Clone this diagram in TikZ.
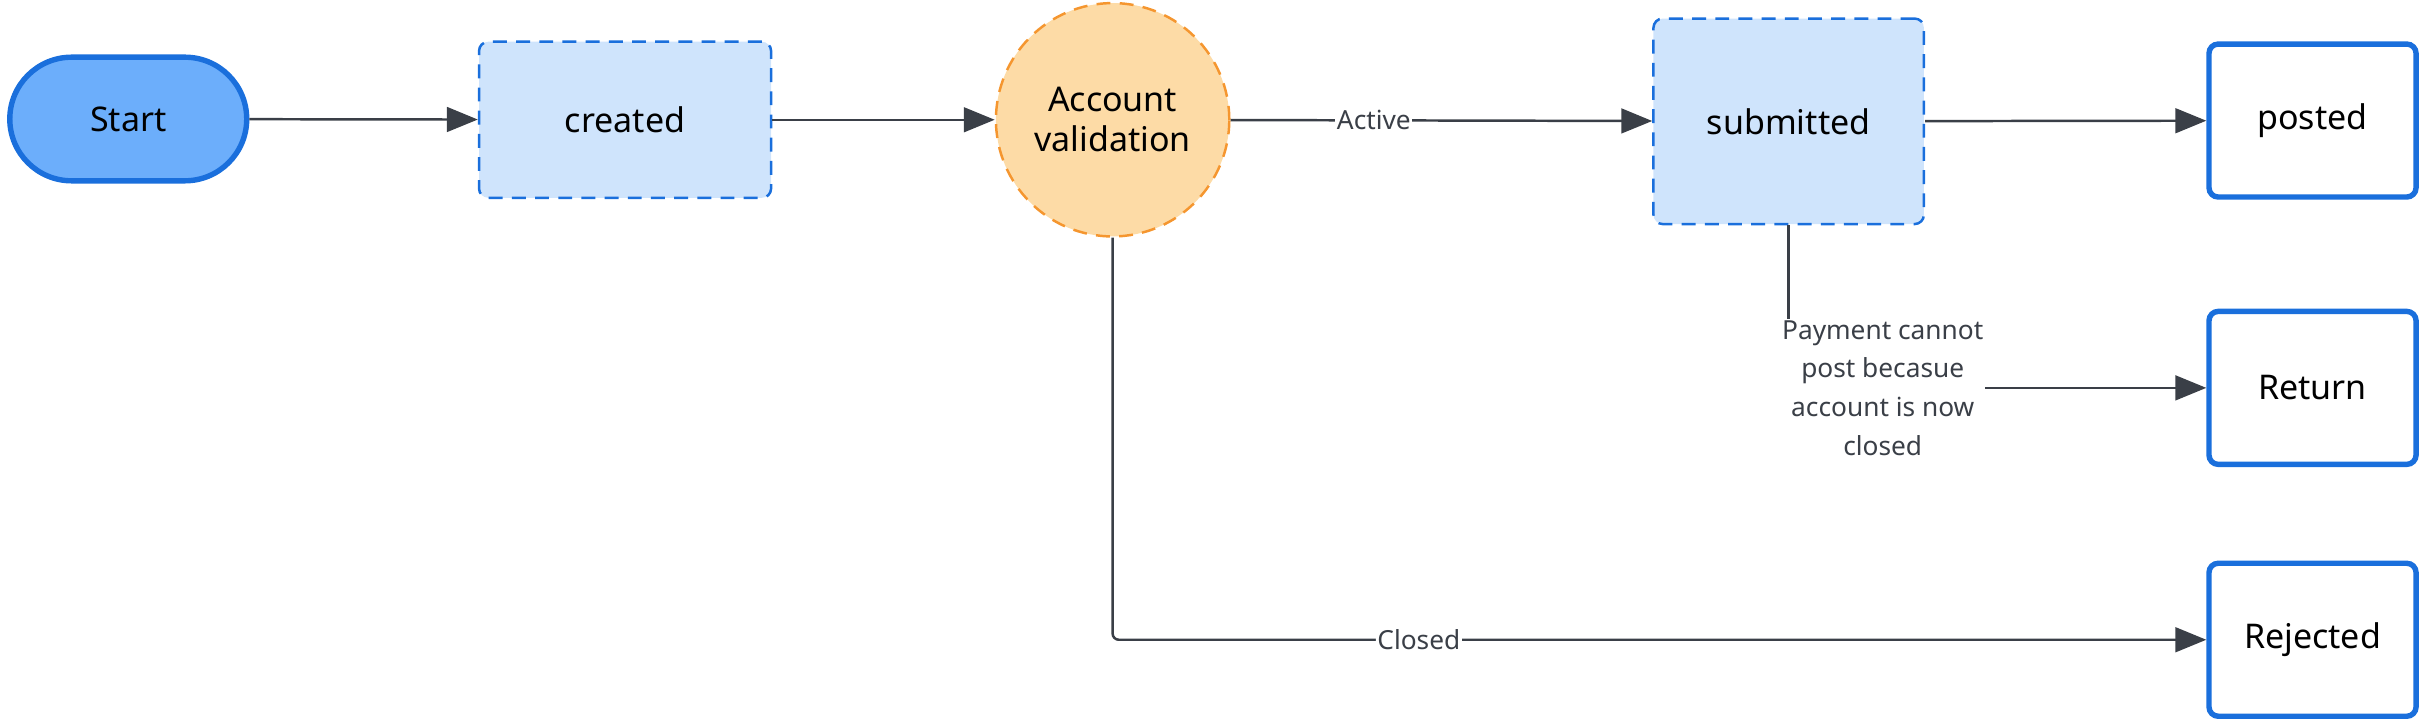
\documentclass[tikz,border=0pt]{standalone}
\usepackage{fontspec}
\setmainfont{Noto Sans}
\usetikzlibrary{arrows.meta,shapes.misc}
\definecolor{bl}{HTML}{1A6FDC}
\definecolor{stf}{HTML}{6CAEFB}
\definecolor{lbf}{HTML}{CFE4FC}
\definecolor{orf}{HTML}{FDDBA6}
\definecolor{orb}{HTML}{F5962F}
\definecolor{ln}{HTML}{3A3F47}
\begin{document}
\begin{tikzpicture}[x=1pt,y=-1pt,
  txt/.style={font=\fontsize{22}{26}\selectfont,align=center,text=black},
  dbox/.style={txt,draw=bl,dash pattern=on 9pt off 6pt,line width=1.6pt,fill=lbf,rounded corners=6pt,inner sep=0},
  obox/.style={txt,draw=bl,line width=3.5pt,fill=white,rounded corners=6pt,inner sep=0,minimum width=134pt,minimum height=99pt},
  arr/.style={draw=ln,line width=1.6pt,-{Triangle[length=20pt,width=16pt]}},
  lab/.style={font=\bfseries\fontsize{17}{25}\selectfont,text=ln,fill=white,inner sep=1pt,align=center}]
\useasboundingbox (0,0) rectangle (1568,467);
\node[txt,draw=bl,line width=3.5pt,fill=stf,rounded rectangle,minimum width=160pt,minimum height=80pt] (start) at (83,77) {Start};
\node[dbox,minimum width=189pt,minimum height=101pt] (created) at (404.5,77.5) {created};
\node[txt,circle,draw=orb,dash pattern=on 9pt off 6pt,line width=1.6pt,fill=orf,minimum size=151pt,inner sep=0] (av) at (720,77.5) {Account\\validation};
\node[dbox,minimum width=175pt,minimum height=133pt] (sub) at (1157.5,78.5) {submitted};
\node[obox] (posted) at (1496.5,78) {posted};
\node[obox] (ret) at (1496.5,251) {Return};
\node[obox] (rej) at (1496.5,414) {Rejected};
\draw[arr] (start) -- (created);
\draw[arr] (created) -- (av);
\draw[arr] (av) -- node[lab,pos=0.34]{Active} (sub);
\draw[arr] (sub) -- (posted);
\draw[arr] (sub.south) |- node[lab,pos=0.62,xshift=-4pt]{Payment cannot\\post becasue\\account is now\\closed} (ret.west);
\draw[arr,rounded corners=4pt] (av.south) |- node[lab,pos=0.64]{Closed} (rej.west);
\end{tikzpicture}
\end{document}
